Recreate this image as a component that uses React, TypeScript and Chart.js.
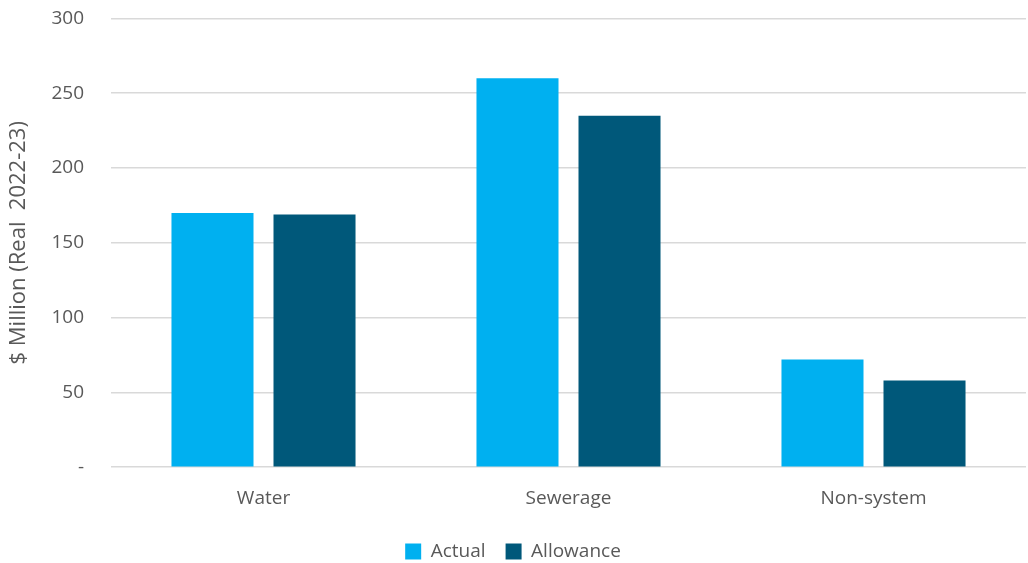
import React, { useEffect, useRef } from "react";
import { Chart, registerables } from "chart.js";

Chart.register(...registerables);

const categories = ["Water", "Sewerage", "Non-system"];
const actualValues = [170, 260, 72];
const allowanceValues = [169, 235, 58];
const yTicks = [0, 50, 100, 150, 200, 250, 300];

export default function App() {
  const ref = useRef<HTMLCanvasElement>(null);
  useEffect(() => {
    document.body.style.margin = "0";
    const font = "'Open Sans', 'Noto Sans', sans-serif";
    const chart = new Chart(ref.current!, {
      type: "bar",
      data: {
        labels: categories,
        datasets: [
          { label: "Actual", data: actualValues, backgroundColor: "#00B0F0", categoryPercentage: 0.669, barPercentage: 0.804 },
          { label: "Allowance", data: allowanceValues, backgroundColor: "#00587A", categoryPercentage: 0.669, barPercentage: 0.804 },
        ],
      },
      options: {
        responsive: false,
        animation: false,
        layout: { padding: { top: 0, right: 2, left: 0, bottom: -8 } },
        plugins: {
          legend: {
            position: "bottom",
            labels: { color: "#595959", font: { family: font, size: 19 }, boxWidth: 16, boxHeight: 16, padding: 20 },
          },
          tooltip: { enabled: false },
        },
        scales: {
          x: {
            grid: { display: false },
            border: { display: false },
            ticks: { color: "#595959", font: { family: font, size: 19 }, padding: 12 },
          },
          y: {
            min: 0,
            max: 300,
            afterBuildTicks: (axis: any) => {
              axis.ticks = yTicks.map((v) => ({ value: v }));
            },
            afterFit: (axis: any) => {
              axis.width = 111;
            },
            grid: { color: "#D9D9D9", lineWidth: 1.5, drawTicks: true, tickLength: 20, tickColor: "rgba(0,0,0,0)" },
            border: { display: false },
            ticks: {
              color: "#595959",
              font: { family: font, size: 19 },
              padding: 7,
              callback: (v: any) => (v === 0 ? "-" : String(v)),
            },
            title: {
              display: true,
              text: "$ Million (Real  2022-23)",
              color: "#595959",
              font: { family: font, size: 22 },
              padding: { top: 6, bottom: 4 },
            },
          },
        },
      },
    });
    return () => chart.destroy();
  }, []);
  return (
    <div style={{ width: 1028, height: 563 }}>
      <canvas ref={ref} width={1028} height={563} />
    </div>
  );
}
